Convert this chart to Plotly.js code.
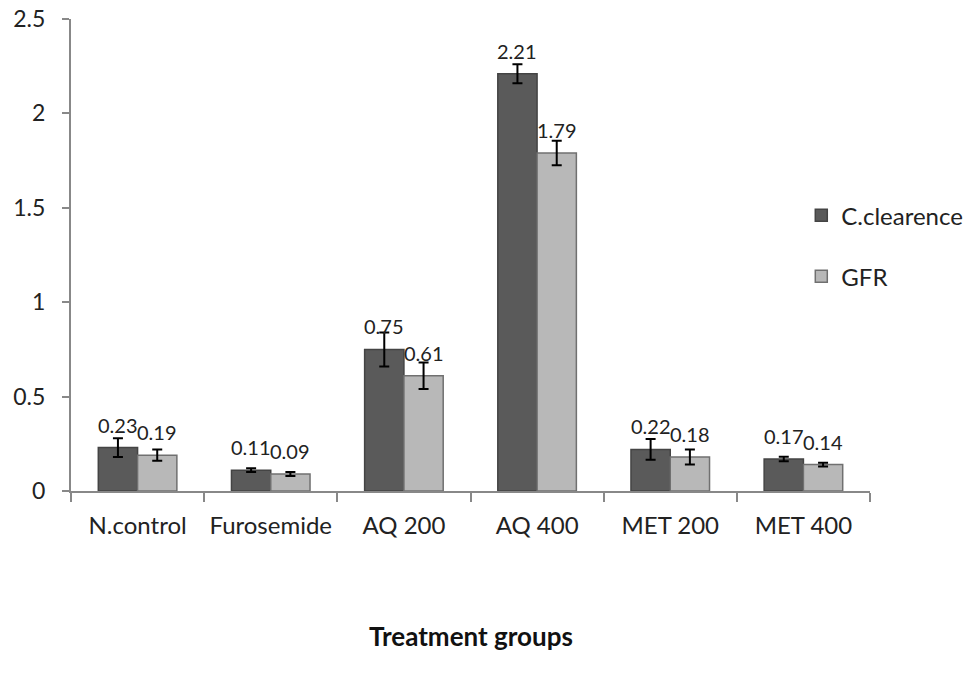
<!DOCTYPE html>
<html><head><meta charset="utf-8">
<script src="https://cdn.plot.ly/plotly-3.0.1.min.js"></script>
<style>body{margin:0;background:#fff}#chart{width:973px;height:684px}</style>
</head><body><div id="chart"></div>
<script>
var categories = ["N.control", "Furosemide", "AQ 200", "AQ 400", "MET 200", "MET 400"];
var seriesNames = ["C.clearence", "GFR"];
var cClearence = [0.23, 0.11, 0.75, 2.21, 0.22, 0.17];
var cClearenceErr = [0.05, 0.01, 0.09, 0.05, 0.055, 0.012];
var gfr = [0.19, 0.09, 0.61, 1.79, 0.18, 0.14];
var gfrErr = [0.03, 0.01, 0.07, 0.065, 0.04, 0.01];
var yTicks = [0, 0.5, 1, 1.5, 2, 2.5];
var yTickText = ["0", "0.5", "1", "1.5", "2", "2.5"];
var xTitle = "Treatment groups";

var font = "Lato, 'Open Sans', sans-serif";
function mk(name, vals, errs, fill, line, grp) {
  return {
    type: "bar", name: name, x: categories, y: vals,
    marker: {color: fill, line: {color: line, width: 1.5}},
    error_y: {type: "data", array: errs, visible: true, color: "#000", thickness: 2, width: 5},
    legendgroup: grp, hoverinfo: "x+y"
  };
}
var data = [
  mk(seriesNames[0], cClearence, cClearenceErr, "#5a5a5a", "#444444", "a"),
  mk(seriesNames[1], gfr, gfrErr, "#b8b8b8", "#707070", "b")
];
// value labels above bar tops (as in the original, not above the error bars)
var plotW = 973 - 71 - 103;
var barW = plotW / categories.length * (1 - 0.41) / 2;
var annotations = [];
[[cClearence, -1], [gfr, 1]].forEach(function (s) {
  s[0].forEach(function (v, i) {
    annotations.push({x: categories[i], y: v, xref: "x", yref: "y", text: String(v),
      showarrow: false, yanchor: "bottom", xanchor: "center", xshift: s[1] * barW / 2, yshift: 9,
      font: {family: font, size: 20, color: "#222"}});
  });
});
annotations.push({x: 0.5, y: -0.307, xref: "paper", yref: "paper", text: "<b>" + xTitle + "</b>",
  showarrow: false, xanchor: "center", yanchor: "middle", font: {family: font, size: 26, color: "#111"}});

var layout = {
  width: 973, height: 684,
  margin: {l: 71, r: 103, t: 19, b: 193, autoexpand: false},
  paper_bgcolor: "#fff", plot_bgcolor: "#fff",
  barmode: "group", bargap: 0.41, bargroupgap: 0,
  font: {family: font, size: 24, color: "#222"},
  xaxis: {
    type: "category", tickson: "boundaries", ticks: "outside", ticklen: 9, tickcolor: "#888", tickwidth: 2,
    showline: true, linecolor: "#888", linewidth: 2, showgrid: false,
    tickfont: {family: font, size: 24, color: "#222"}, ticklabelstandoff: 12,
    automargin: false
  },
  yaxis: {
    range: [0, 2.5], tickvals: yTicks, ticktext: yTickText, ticks: "outside", ticklen: 7, tickcolor: "#888", tickwidth: 2,
    showline: true, linecolor: "#888", linewidth: 2, showgrid: false, zeroline: false,
    tickfont: {family: font, size: 23, color: "#222"}, ticklabelstandoff: 12, automargin: false
  },
  annotations: annotations,
  showlegend: true,
  legend: {x: 0.914, xanchor: "left", y: 0.519, yanchor: "middle", tracegroupgap: 27,
    font: {family: font, size: 24, color: "#222"}, itemwidth: 30, bgcolor: "rgba(0,0,0,0)"}
};
Plotly.newPlot("chart", data, layout, {displayModeBar: false});
</script></body></html>
